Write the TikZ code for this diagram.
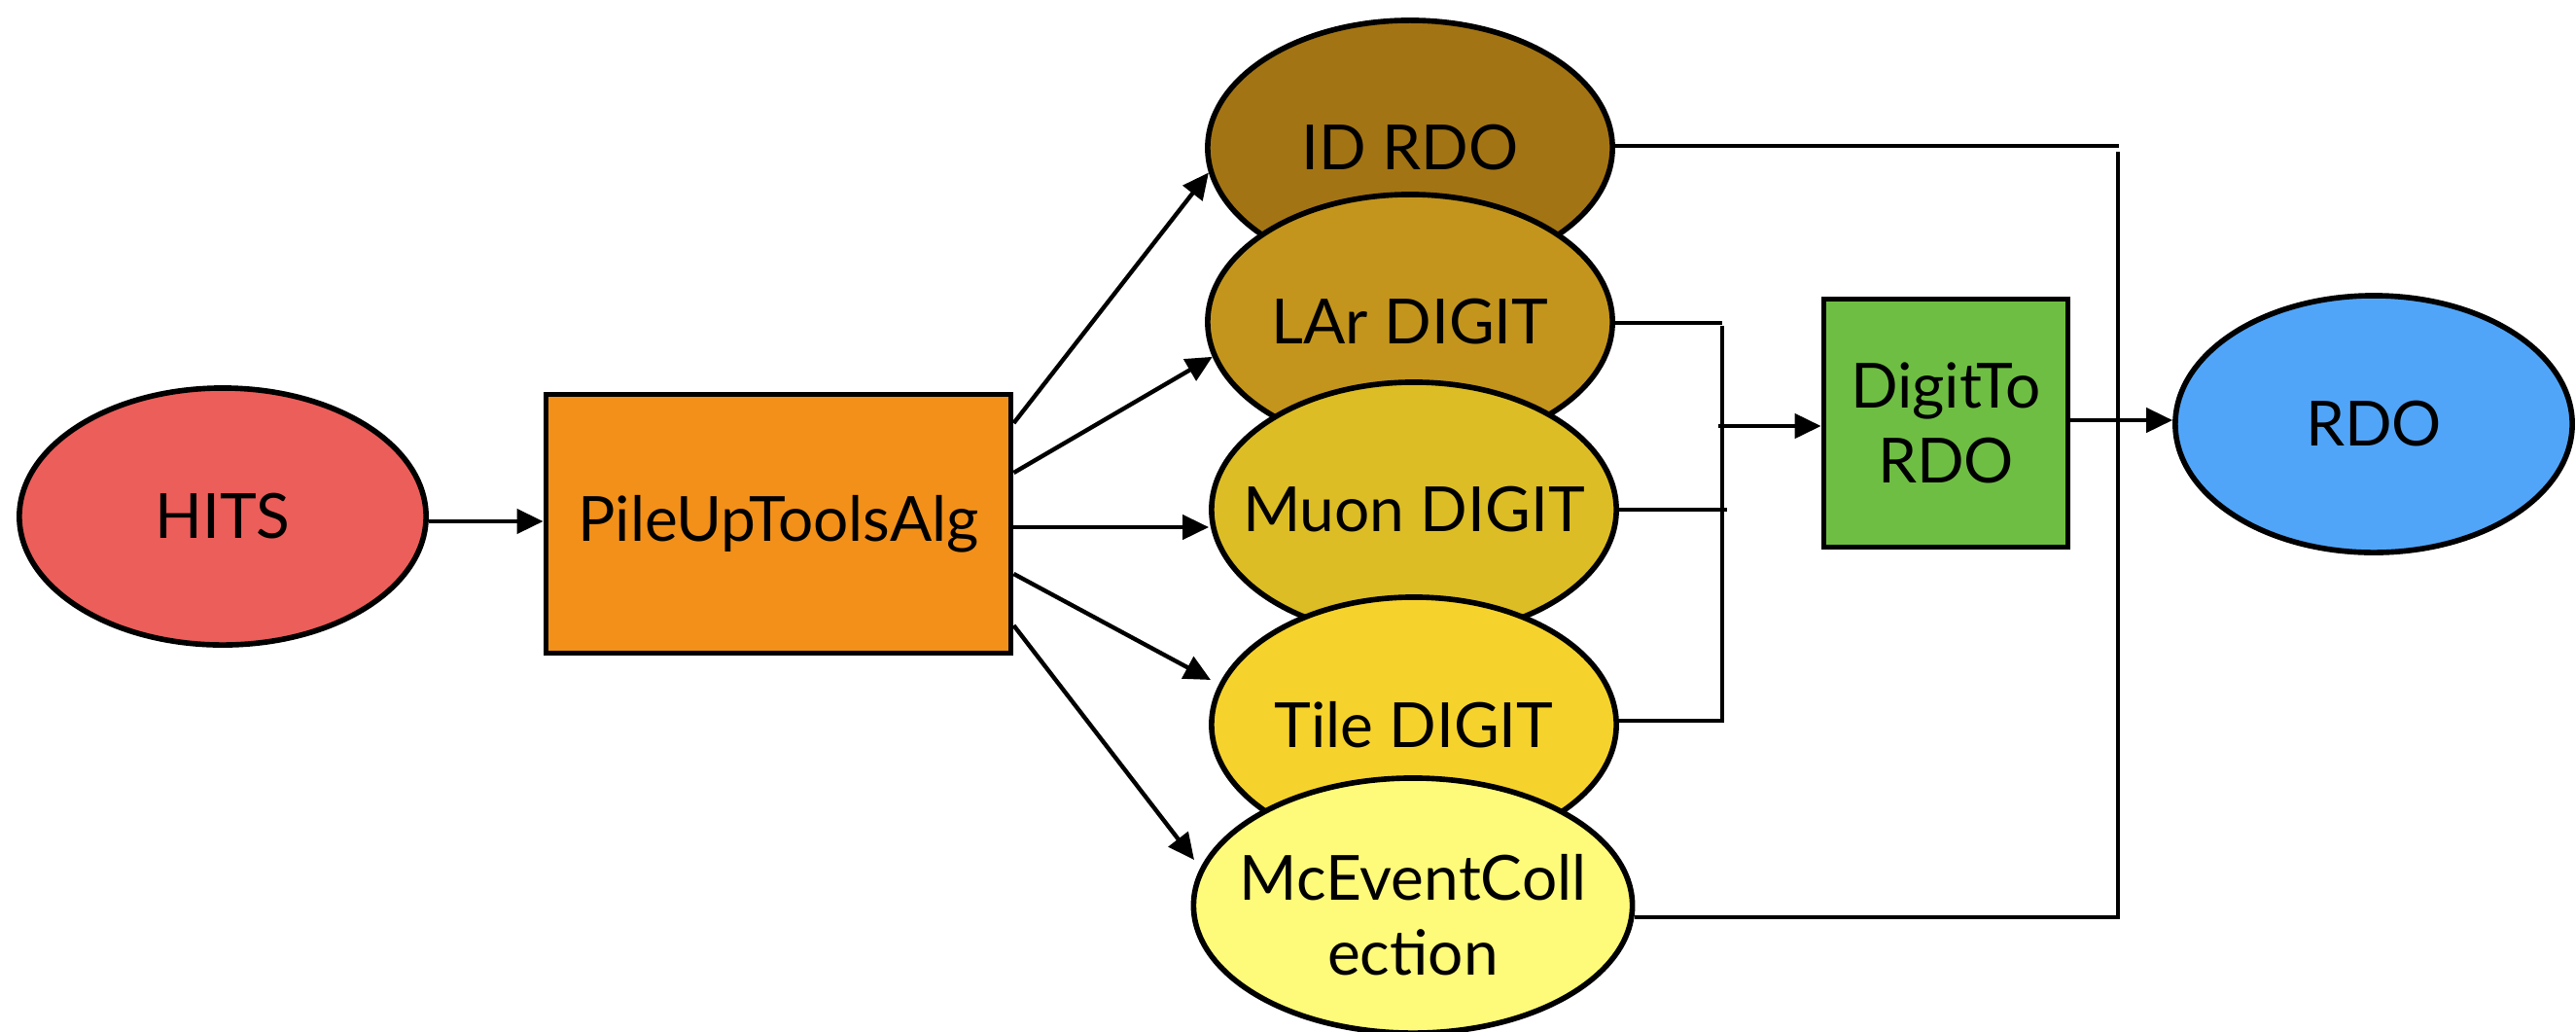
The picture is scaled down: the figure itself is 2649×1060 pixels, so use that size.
\documentclass[tikz,border=0pt]{standalone}
\usepackage{fontspec}
\setmainfont{Lato}
\usetikzlibrary{arrows.meta,shapes.geometric,calc}

\definecolor{hitsred}{HTML}{EC5E5A}
\definecolor{puorange}{HTML}{F29019}
\definecolor{idbrown}{HTML}{A37414}
\definecolor{larochre}{HTML}{C3951D}
\definecolor{muongold}{HTML}{DCBD25}
\definecolor{tileyellow}{HTML}{F6D22C}
\definecolor{mcyellow}{HTML}{FFFB7A}
\definecolor{dgreen}{HTML}{6FBE44}
\definecolor{rdoblue}{HTML}{51A5F8}

% zero-width centred text, so that labels never widen their ellipse
\newcommand{\ctrtext}[1]{\makebox[0pt][c]{#1}}

\begin{document}
\begin{tikzpicture}[x=0.01cm,y=-0.01cm,
  every node/.style={font=\fontsize{18.2pt}{21.8pt}\selectfont, text=black},
  blob/.style={ellipse, draw=black, line width=1.6pt, inner sep=0pt,
               minimum height=2.62cm},
  box/.style={rectangle, draw=black, line width=1.6pt, inner sep=0pt, align=center},
  wire/.style={line width=1.25pt},
  arr/.style={wire, -{Triangle[length=0.27cm,width=0.25cm]}}]

\useasboundingbox (0,0) rectangle (2649,1060);

% sources and the pile-up algorithm
\node[blob, fill=hitsred, minimum width=4.18cm, minimum height=2.64cm] (hits) at (229,531) {HITS};
\node[box, fill=puorange, minimum width=4.78cm, minimum height=2.66cm] (pu) at (800.5,538.5) {PileUpToolsAlg};

% stacked outputs, back to front
\node[blob, fill=idbrown,    minimum width=4.16cm] (idrdo) at (1450,152) {\ctrtext{ID RDO}};
\node[blob, fill=larochre,   minimum width=4.16cm] (lar)   at (1450,331) {\ctrtext{LAr DIGIT}};
\node[blob, fill=muongold,   minimum width=4.16cm] (muon)  at (1454,524) {\ctrtext{Muon DIGIT}};
\node[blob, fill=tileyellow, minimum width=4.16cm] (tile)  at (1454,745) {\ctrtext{Tile DIGIT}};
\node[blob, fill=mcyellow,   minimum width=4.51cm, align=center] (mc) at (1453,931)
     {\rule{0pt}{0.66cm}\ctrtext{McEventColl}\\\ctrtext{ection}};

% digitisation step and final output
\node[box, fill=dgreen, minimum width=2.51cm, minimum height=2.55cm] (d2r) at (2001,435) {DigitTo\\RDO};
\node[blob, fill=rdoblue, minimum width=4.08cm, minimum height=2.64cm] (rdo) at (2441,436) {RDO};

% HITS into the algorithm
\draw[arr] (hits.east |- 0,536) -- (pu.west |- 0,536);

% fan-out from the algorithm
\draw[arr] (pu.east |- 0,435) -- (idrdo.187);
\draw[arr] (pu.east |- 0,486) -- (lar.190);
\draw[arr] (pu.east |- 0,542) -- (muon.west |- 0,542);
\draw[arr] (pu.east |- 0,590) -- ($(tile.center)+(-209,-46)$);
\draw[arr] (pu.east |- 0,643) -- ($(mc.center)+(-225,-47)$);

% digit bus feeding DigitToRDO
\coordinate (busTop) at (1771,332);
\coordinate (busBot) at (1771,741);
\coordinate (busIn)  at (1767,438);
\draw[wire] (lar.east |- 0,332) -- (busTop);
\draw[wire] (busTop |- 0,335) -- (busBot) -- (tile.east |- 0,741);
\draw[wire] (muon.east |- 0,524) -- (1776,524);
\draw[arr] (busIn) -- (d2r.west |- 0,438);

% DigitToRDO into RDO
\draw[arr] (d2r.east |- 0,432) -- (rdo.west |- 0,432);

% outer bus joining ID RDO and McEventCollection
\coordinate (outTop) at (2179,150);
\coordinate (outBot) at (2178,943);
\draw[wire] (idrdo.east |- 0,150) -- (outTop);
\draw[wire] (mc.east |- 0,943) -- (outBot) -- (outBot |- 0,156);

\end{tikzpicture}
\end{document}
